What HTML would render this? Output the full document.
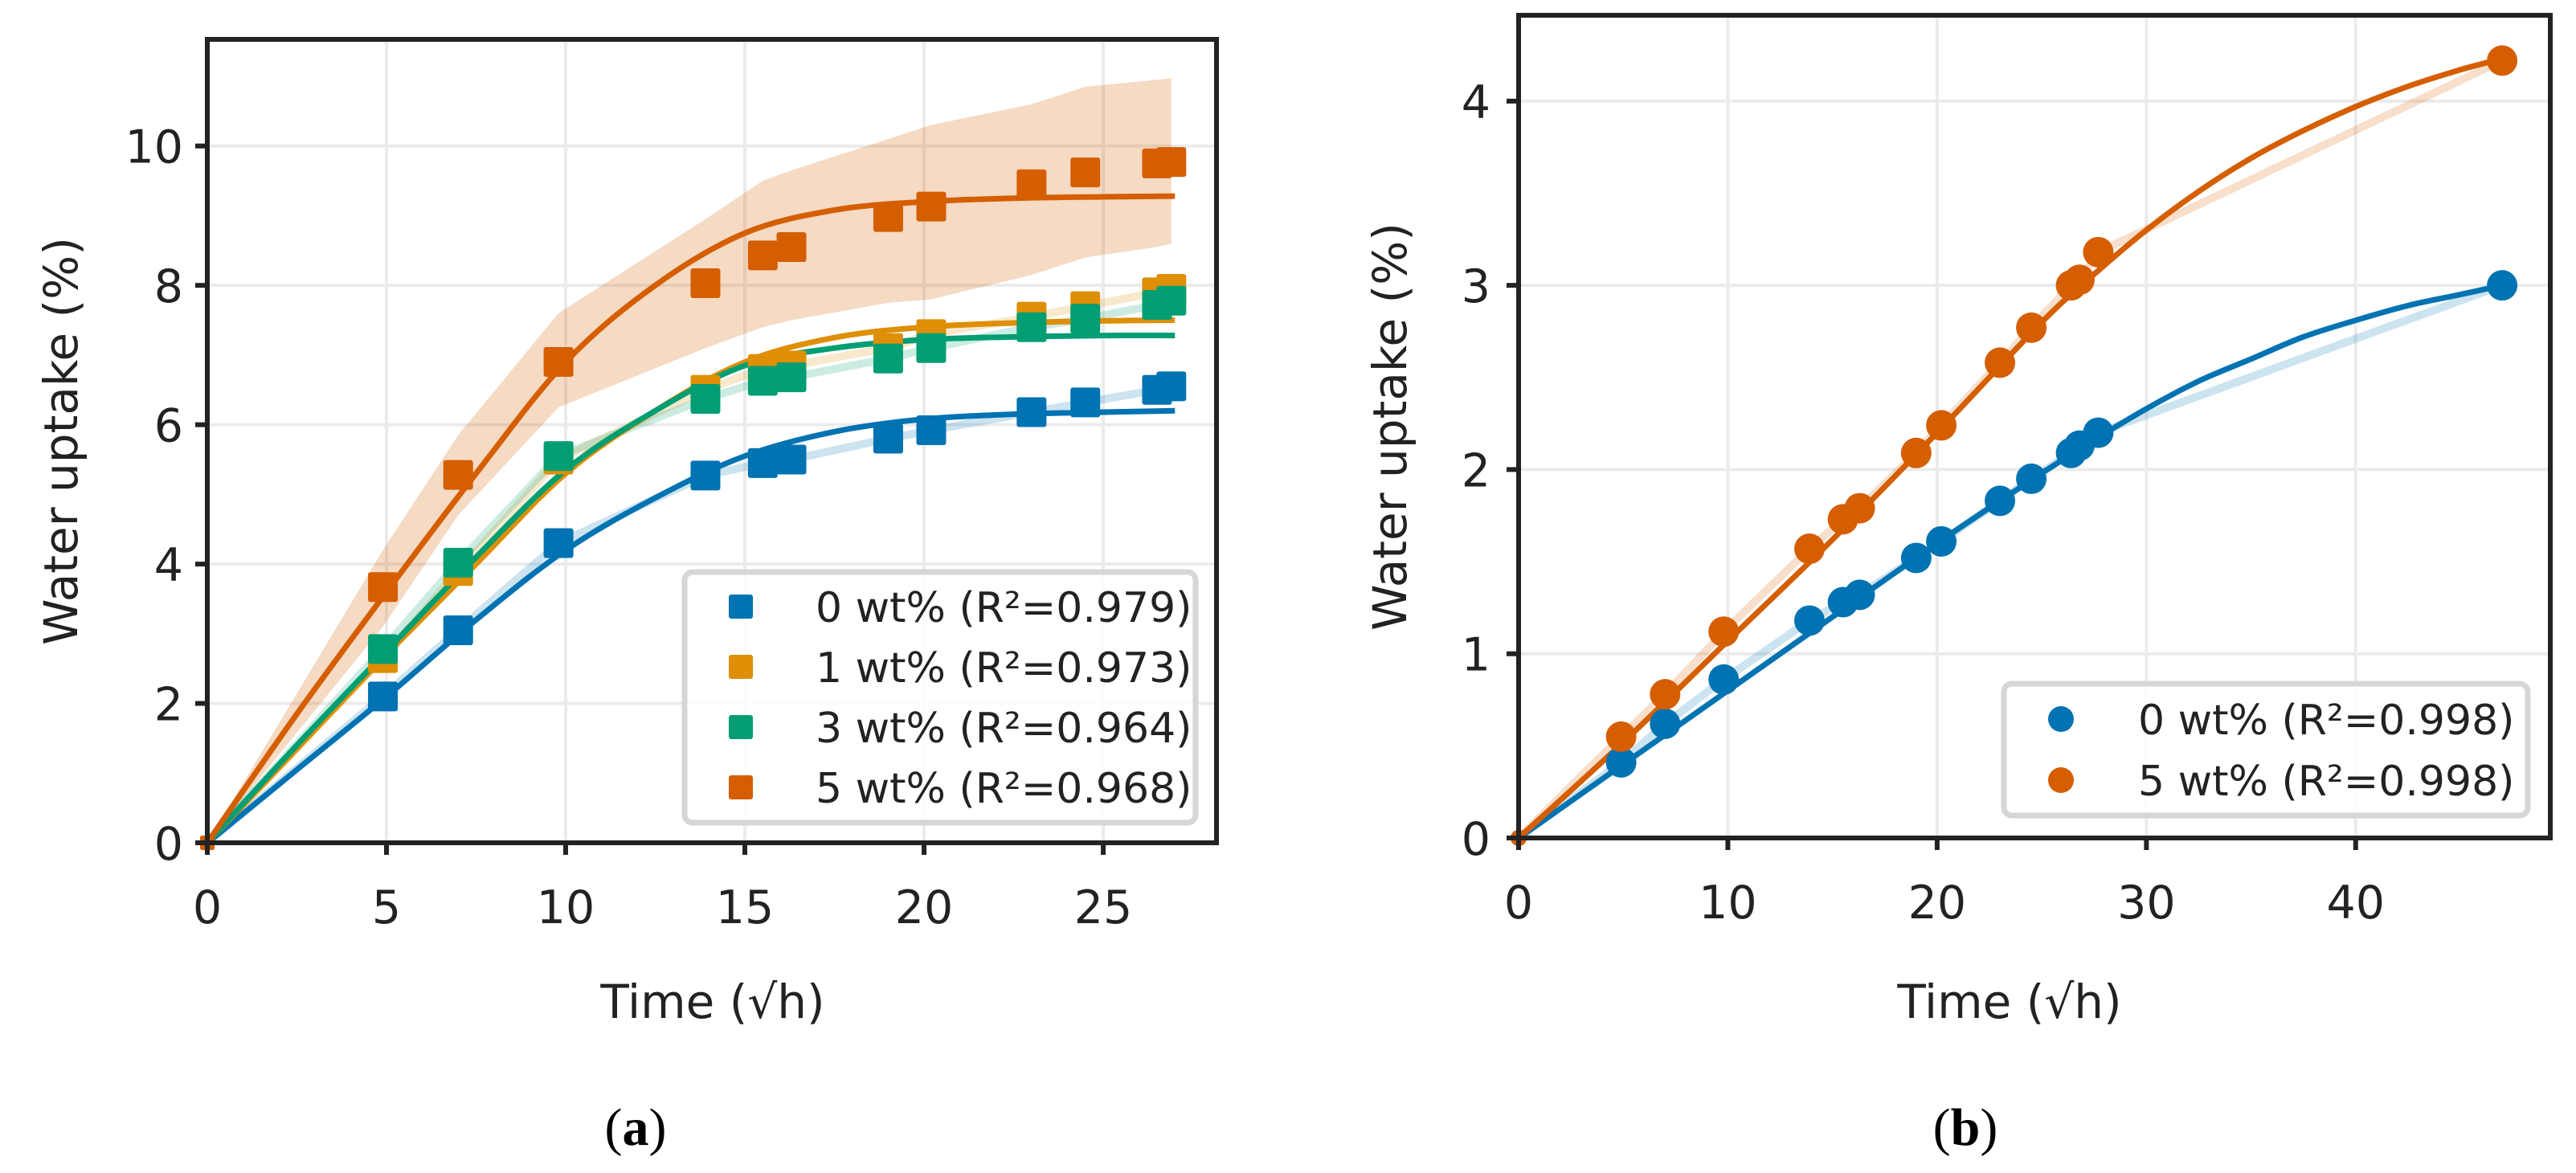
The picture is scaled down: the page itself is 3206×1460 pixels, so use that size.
<!DOCTYPE html>
<html><head><meta charset="utf-8"><style>
html,body{margin:0;padding:0;background:#fff;}
svg{display:block;font-family:"DejaVu Sans","Liberation Sans",sans-serif;}
</style></head><body>
<svg id="fig" width="3206" height="1460" viewBox="0 0 3206 1460" xmlns="http://www.w3.org/2000/svg">
<rect width="3206" height="1460" fill="#fff"/>
<g id="pa"></g>
<g id="pb"></g>
<text x="791" y="1425" text-anchor="middle" font-family="Liberation Serif, serif" font-size="66">(<tspan font-weight="bold">a</tspan>)</text>
<text x="2446" y="1425" text-anchor="middle" font-family="Liberation Serif, serif" font-size="66">(<tspan font-weight="bold">b</tspan>)</text>
</svg>
<script>
// ---- Panel A data ----
const aX = [0,4.9,7,9.8,13.9,15.5,16.3,19,20.2,23,24.5,26.5,26.9];
const a0 = [0,2.1,3.05,4.3,5.27,5.45,5.5,5.8,5.92,6.18,6.32,6.5,6.55];
const a1 = [0,2.65,3.9,5.5,6.5,6.8,6.85,7.1,7.3,7.55,7.7,7.9,7.95];
const a3 = [0,2.78,4.02,5.55,6.37,6.63,6.68,6.95,7.1,7.4,7.52,7.72,7.78];
const a5 = [0,3.67,5.28,6.9,8.03,8.43,8.55,8.98,9.13,9.45,9.62,9.75,9.77];
const a5Upper = [0,4.2,5.85,7.6,8.95,9.5,9.65,10.1,10.3,10.6,10.85,10.95,10.97];
const a5Lower = [0,3.1,4.7,6.25,7.1,7.4,7.5,7.75,7.8,8.15,8.4,8.55,8.6];
const aFitX = [0,2.5,5,7.5,10,12.5,15,17.5,20,22.5,25,27];
const aFit0 = [0,1.05,2.1,3.2,4.2,4.95,5.55,5.9,6.08,6.15,6.18,6.2];
const aFit1 = [0,1.35,2.7,4.0,5.3,6.2,6.9,7.25,7.4,7.46,7.49,7.5];
const aFit3 = [0,1.4,2.75,4.1,5.35,6.2,6.85,7.1,7.22,7.26,7.28,7.28];
const aFit5 = [0,1.85,3.6,5.3,6.9,8.0,8.75,9.08,9.2,9.25,9.27,9.28];
const aXTicks = [0,5,10,15,20,25];
const aYTicks = [0,2,4,6,8,10];
const aLabels = ["0 wt% (R²=0.979)","1 wt% (R²=0.973)","3 wt% (R²=0.964)","5 wt% (R²=0.968)"];
// ---- Panel B data ----
const bX = [0,4.9,7,9.8,13.9,15.5,16.3,19,20.2,23,24.5,26.4,26.8,27.7,47];
const b0 = [0,0.41,0.62,0.86,1.18,1.28,1.32,1.52,1.61,1.83,1.95,2.09,2.13,2.2,3.0];
const b5 = [0,0.55,0.78,1.12,1.57,1.73,1.79,2.09,2.24,2.58,2.77,3.0,3.03,3.18,4.22];
const bFitX = [0,5,10,15,20,25,27.5,30,32.5,35,37.5,40,42.5,45,47];
const bFit0 = [0,0.4,0.8,1.2,1.6,1.98,2.16,2.33,2.48,2.6,2.72,2.81,2.89,2.95,3.0];
const bFit5 = [0,0.52,1.07,1.62,2.2,2.8,3.06,3.3,3.51,3.69,3.84,3.97,4.08,4.17,4.23];
const bXTicks = [0,10,20,30,40];
const bYTicks = [0,1,2,3,4];
const bLabels = ["0 wt% (R²=0.998)","5 wt% (R²=0.998)"];

const C = {blue:"#0173b2",orange:"#de8f05",green:"#029e73",red:"#d55e00"};
const NS="http://www.w3.org/2000/svg";
function mk(parent,tag,attrs,text){const e=document.createElementNS(NS,tag);for(const k in attrs)e.setAttribute(k,attrs[k]);if(text!==undefined)e.textContent=text;parent.appendChild(e);return e;}
function smooth(pts){let d="M"+pts[0][0]+","+pts[0][1];for(let i=0;i<pts.length-1;i++){const p0=pts[i-1]||pts[i],p1=pts[i],p2=pts[i+1],p3=pts[i+2]||p2;const c1=[p1[0]+(p2[0]-p0[0])/6,p1[1]+(p2[1]-p0[1])/6],c2=[p2[0]-(p3[0]-p1[0])/6,p2[1]-(p3[1]-p1[1])/6];d+=" C"+c1+" "+c2+" "+p2;}return d;}

function axes(g,L,R,T,B,xmax,ymax,xt,yt,ylabEnd,ylabX,xlabX,name){
  const sx=v=>L+v*(R-L)/xmax, sy=v=>B-v*(B-T)/ymax;
  xt.forEach(t=>{const l=mk(g,"line",{x1:sx(t),x2:sx(t),y1:T,y2:B,stroke:"#ebebeb","stroke-width":4});
    
    });
  yt.forEach(t=>{const l=mk(g,"line",{x1:L,x2:R,y1:sy(t),y2:sy(t),stroke:"#ebebeb","stroke-width":4});
    
    });
  return {sx,sy,finish(){
    const r=mk(g,"rect",{x:L,y:T,width:R-L,height:B-T,fill:"none",stroke:"#222","stroke-width":6});
    
    
    xt.forEach(t=>{const l=mk(g,"line",{x1:sx(t),x2:sx(t),y1:B,y2:B+15,stroke:"#222","stroke-width":6});
      
      
      const tx=mk(g,"text",{x:sx(t),y:B+100,"text-anchor":"middle","font-size":57,fill:"#222"},String(t));
      
      });
    yt.forEach(t=>{const l=mk(g,"line",{x1:L-15,x2:L,y1:sy(t),y2:sy(t),stroke:"#222","stroke-width":6});
      
      
      const tx=mk(g,"text",{x:ylabEnd,y:sy(t)+21,"text-anchor":"end","font-size":57,fill:"#222"},String(t));
      
      });
    const yl=mk(g,"text",{x:0,y:0,transform:`translate(${ylabX},${(T+B)/2}) rotate(-90)`,"text-anchor":"middle","font-size":58,fill:"#222"},"Water uptake (%)");
    
    
    const xl=mk(g,"text",{x:xlabX,y:1267,"text-anchor":"middle","font-size":58,fill:"#222"},"Time (√h)");
    
    
  }};
}

// Panel A
(function(){
  const g=document.getElementById("pa");
  const A=axes(g,258,1514,49,1049,28.16,11.53,aXTicks,aYTicks,228,96,887);
  const {sx,sy}=A;
  let d="M"+aX.map((x,i)=>sx(x)+","+sy(a5Upper[i])).join(" L");
  for(let i=aX.length-1;i>=0;i--) d+=" L"+sx(aX[i])+","+sy(a5Lower[i]);
  const band=mk(g,"path",{d:d+"Z",fill:C.red,"fill-opacity":0.23,stroke:"none"});
  
  
  const series=[[a0,aFit0,C.blue,"0wt"],[a1,aFit1,C.orange,"1wt"],[a3,aFit3,C.green,"3wt"],[a5,aFit5,C.red,"5wt"]];
  series.forEach(([ys,fit,col,n])=>{
    if(n!=="5wt"){const l=mk(g,"polyline",{points:aX.map((x,i)=>sx(x)+","+sy(ys[i])).join(" "),fill:"none",stroke:col,"stroke-opacity":0.2,"stroke-width":10});
      
      }
  });
  series.forEach(([ys,fit,col,n])=>{
    const p=mk(g,"path",{d:smooth(aFitX.map((x,i)=>[sx(x),sy(fit[i])])),fill:"none",stroke:col,"stroke-width":7});
    
    
  });
  series.forEach(([ys,fit,col,n])=>{
    aX.forEach((x,i)=>{const s=(i===0)?18:37;const r=mk(g,"rect",{x:sx(x)-s/2,y:sy(ys[i])-s/2,width:s,height:s,rx:3,fill:col});
      
      });
  });
  A.finish();
  const lg=mk(g,"rect",{x:852,y:712,width:636,height:312,rx:10,fill:"#fff","fill-opacity":0.85,stroke:"#d6d6d6","stroke-width":7});
  
  
  const cols=[C.blue,C.orange,C.green,C.red];
  aLabels.forEach((t,i)=>{const y=755+i*75;
    const m=mk(g,"rect",{x:907,y:y-15,width:30,height:30,rx:3,fill:cols[i]});
    
    
    const tx=mk(g,"text",{x:1015,y:y+19,"font-size":52,fill:"#222"},t);
    
    });
})();

// Panel B
(function(){
  const g=document.getElementById("pb");
  const A=axes(g,1890,3174,19,1043,49.3,4.466,bXTicks,bYTicks,1855,1750,2501);
  const {sx,sy}=A;
  const series=[[b0,bFit0,C.blue,"0wt"],[b5,bFit5,C.red,"5wt"]];
  series.forEach(([ys,fit,col,n])=>{
    const l=mk(g,"polyline",{points:bX.map((x,i)=>sx(x)+","+sy(ys[i])).join(" "),fill:"none",stroke:col,"stroke-opacity":0.2,"stroke-width":10});
    
    
  });
  series.forEach(([ys,fit,col,n])=>{
    const p=mk(g,"path",{d:smooth(bFitX.map((x,i)=>[sx(x),sy(fit[i])])),fill:"none",stroke:col,"stroke-width":7});
    
    
  });
  series.forEach(([ys,fit,col,n])=>{
    bX.forEach((x,i)=>{const c=mk(g,"circle",{cx:sx(x),cy:sy(ys[i]),r:(i===0)?10:19,fill:col});
      
      });
  });
  A.finish();
  const lg=mk(g,"rect",{x:2494,y:851,width:652,height:164,rx:10,fill:"#fff","fill-opacity":0.85,stroke:"#d6d6d6","stroke-width":7});
  
  
  const cols=[C.blue,C.red];
  bLabels.forEach((t,i)=>{const y=895+i*76;
    const m=mk(g,"circle",{cx:2565,cy:y,r:16,fill:cols[i]});
    
    
    const tx=mk(g,"text",{x:2661,y:y+19,"font-size":52,fill:"#222"},t);
    
    });
})();
</script>
</body></html>
